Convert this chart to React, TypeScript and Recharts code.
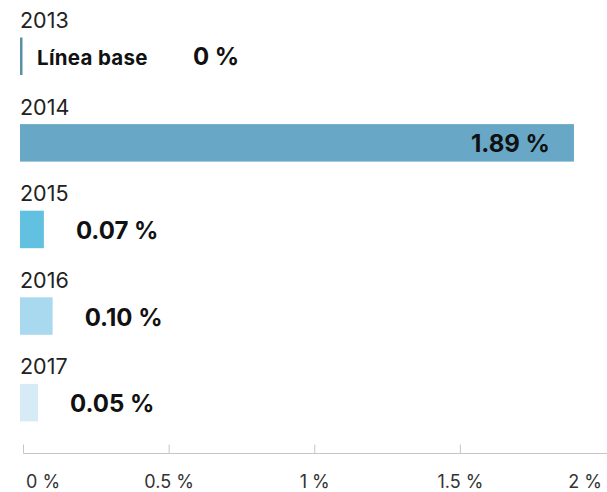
import React from 'react';
import { BarChart, Bar, XAxis, YAxis, LabelList } from 'recharts';

const years = ['2013', '2014', '2015', '2016', '2017'];
const values = [0, 1.89, 0.07, 0.1, 0.05];
const valueLabels = ['0 %', '1.89 %', '0.07 %', '0.10 %', '0.05 %'];
const baseLabel = 'Línea base';
const barColors = ['#5b8fa1', '#68a8c6', '#62c0e0', '#a9d9ee', '#d7ebf6'];
const xTicks = [0, 0.5, 1, 1.5, 2];
const xTickLabels = ['0 %', '0.5 %', '1 %', '1.5 %', '2 %'];

const data = years.map((y, i) => ({ year: y, value: values[i], color: barColors[i] }));

const FONT = 'Inter, "Noto Sans", sans-serif';
const EXT = 3.5;

const BarShape = (props: any) => {
  const { x, y, width, height, payload } = props;
  const w = payload.value === 0 ? 2.5 : width + EXT;
  return <rect x={x - EXT} y={y} width={w} height={height} fill={payload.color} />;
};

const YearLabel = (props: any) => {
  const { x, y, index } = props;
  return (
    <text x={x - EXT} y={y - 9.5} fontSize={21.5} fill="#222" fontFamily={FONT}>
      {years[index]}
    </text>
  );
};

const ValueLabel = (props: any) => {
  const { x, y, width, height, index } = props;
  const cy = y + height / 2;
  if (index === 0) {
    return (
      <g fontFamily={FONT} fill="#111" fontWeight={700}>
        <text x={x + 13.5} y={cy + 8.3} fontSize={20.5} letterSpacing={0.3}>{baseLabel}</text>
        <text x={x + 169.5} y={cy + 9} fontSize={24}>{valueLabels[index]}</text>
      </g>
    );
  }
  if (width > 100) {
    return (
      <text x={x + width - 24} y={cy + 9.5} fontSize={24} fontWeight={700} fill="#111" textAnchor="end" fontFamily={FONT}>
        {valueLabels[index]}
      </text>
    );
  }
  return (
    <text x={x + width + 32} y={cy + 9.5} fontSize={24} fontWeight={700} fill="#111" fontFamily={FONT}>
      {valueLabels[index]}
    </text>
  );
};

const AxisTick = (props: any) => {
  const { x, y, index } = props;
  const last = index === xTicks.length - 1;
  const anchor = index === 0 ? 'start' : last ? 'end' : 'middle';
  const tx = index === 0 ? x + 2.5 : last ? x - 4 : x;
  return (
    <g>
      {index === 0 && <line x1={x} x2={x + 1000} y1={y + 8} y2={y + 8} stroke="#c6c6ca" strokeWidth={1} />}
      {!last && <line x1={x} x2={x} y1={y - 1} y2={y + 8} stroke="#c6c6ca" strokeWidth={1} />}
      <text x={tx} y={y + 42} textAnchor={anchor} fontSize={18} fill="#333" fontFamily={FONT}>
        {xTickLabels[index]}
      </text>
    </g>
  );
};

export default function App() {
  return (
    <div style={{ position: 'absolute', left: 0, top: 0, width: 607, height: 492, overflow: 'hidden', background: '#fff' }}>
      <BarChart
        width={607}
        height={492}
        data={data}
        layout="vertical"
        margin={{ top: 12.5, right: 1, bottom: 0, left: 23.5 }}
        barSize={37.5}
      >
        <XAxis
          type="number"
          domain={[0, 2]}
          ticks={xTicks}
          height={46.5}
          tickSize={0}
          tickMargin={0}
          tickLine={false}
          axisLine={false}
          tick={<AxisTick />}
          interval={0}
        />
        <YAxis type="category" dataKey="year" hide />
        <Bar dataKey="value" isAnimationActive={false} shape={<BarShape />}>
          <LabelList dataKey="year" content={<YearLabel />} />
          <LabelList dataKey="value" content={<ValueLabel />} />
        </Bar>
      </BarChart>
    </div>
  );
}
